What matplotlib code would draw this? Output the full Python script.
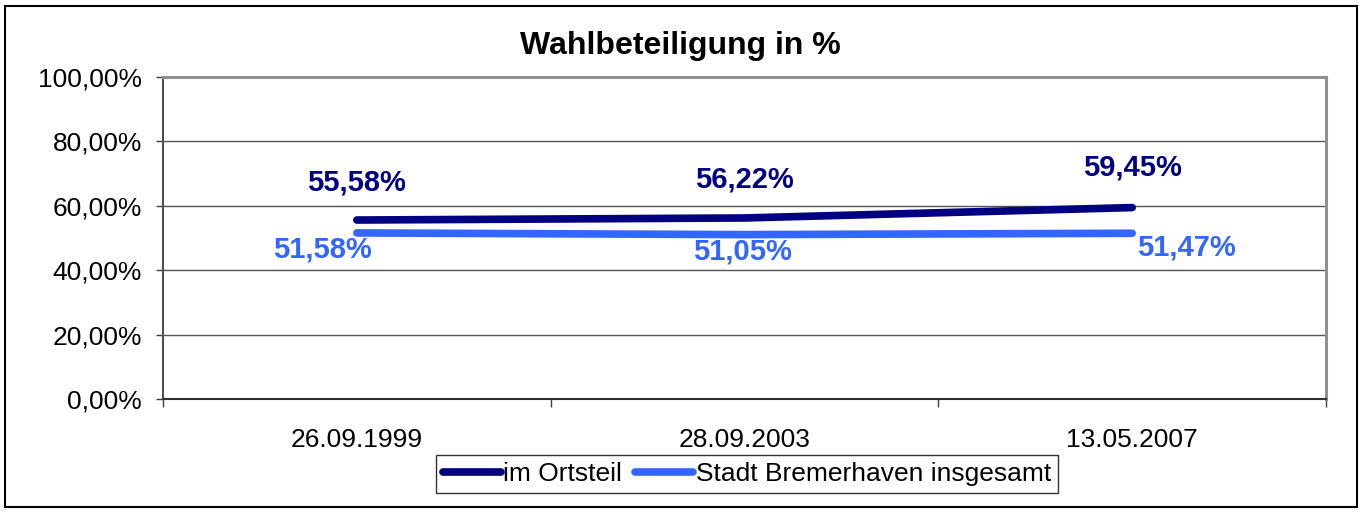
import matplotlib.pyplot as plt
from matplotlib.patches import Rectangle

# Daten
termine = ['26.09.1999', '28.09.2003', '13.05.2007']
ortsteil = [55.58, 56.22, 59.45]
bremerhaven = [51.58, 51.05, 51.47]
y_ticks = [0, 20, 40, 60, 80, 100]

dunkel = '#000080'
hell = '#3366FF'

plt.rcParams['font.family'] = ['Liberation Sans', 'DejaVu Sans']

fig = plt.figure(figsize=(13.65, 5.13), dpi=100)
ax = fig.add_axes([163 / 1365, 1 - 399 / 513, (1326 - 163) / 1365, (399 - 77) / 513])

x = list(range(len(termine)))
ax.plot(x, ortsteil, color=dunkel, lw=5.5, solid_capstyle='round', label='im Ortsteil', zorder=3)
ax.plot(x, bremerhaven, color=hell, lw=5.5, solid_capstyle='round',
        label='Stadt Bremerhaven insgesamt', zorder=3)

# Beschriftungen der Datenpunkte (Versatz in Pixel)
off_dunkel = [(0, 38), (0, 38), (0, 40)]
off_hell = [(-34, -17), (-2, -17), (54, -14)]
for i, v in enumerate(ortsteil):
    ax.annotate(f'{v:.2f}%'.replace('.', ','), (i, v), xytext=off_dunkel[i],
                textcoords='offset pixels', ha='center', va='center',
                color=dunkel, fontsize=21, fontweight='bold')
for i, v in enumerate(bremerhaven):
    ax.annotate(f'{v:.2f}%'.replace('.', ','), (i, v), xytext=off_hell[i],
                textcoords='offset pixels', ha='center', va='center',
                color=hell, fontsize=21, fontweight='bold')

ax.set_xlim(-0.5, len(termine) - 0.5)
ax.set_ylim(0, 100)
ax.set_yticks(y_ticks)
ax.set_yticklabels([f'{t:.2f}%'.replace('.', ',') for t in y_ticks], fontsize=19)
ax.tick_params(axis='y', length=5, width=1, color='#404040', pad=10)

ax.set_xticks([i - 0.5 for i in range(len(termine) + 1)])
ax.set_xticklabels([])
ax.tick_params(axis='x', which='major', length=6, width=1, color='#404040')
ax.set_xticks(x, minor=True)
ax.set_xticklabels(termine, minor=True, fontsize=19)
ax.tick_params(axis='x', which='minor', length=0, pad=21)

for t in y_ticks[1:-1]:
    ax.axhline(t, color='#555555', lw=1, zorder=1)

for s in ['top', 'right']:
    ax.spines[s].set_color('#909090')
    ax.spines[s].set_linewidth(2.2)
ax.spines['left'].set_color('#505050')
ax.spines['left'].set_linewidth(1.5)
ax.spines['bottom'].set_color('#303030')
ax.spines['bottom'].set_linewidth(1.5)

fig.text(680 / 1365, 1 - 46 / 513, 'Wahlbeteiligung in %', ha='center', va='center',
         fontsize=23, fontweight='bold')

leg = fig.legend(loc='center', bbox_to_anchor=(747 / 1365, 1 - 474 / 513), ncol=2,
                 fontsize=19, frameon=True, fancybox=False, edgecolor='black',
                 handlelength=2.2, handletextpad=0.1, columnspacing=0.5,
                 borderpad=0.25, borderaxespad=0)
leg.get_frame().set_linewidth(1)

fig.patches.append(Rectangle((5 / 1365, 6 / 513), 1352 / 1365, 501 / 513,
                             transform=fig.transFigure, fill=False,
                             edgecolor='black', lw=1.5))

fig.savefig('out.png', dpi=100)
